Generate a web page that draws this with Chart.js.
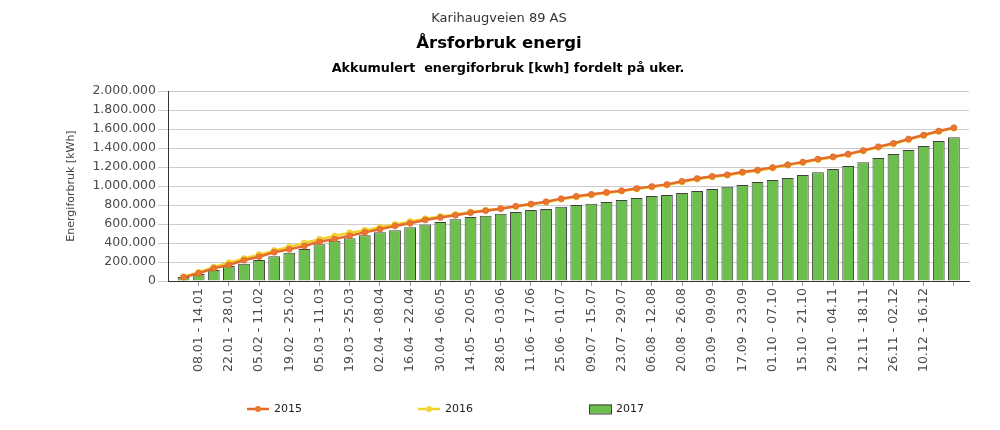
<!DOCTYPE html>
<html lang="no">
<head>
<meta charset="utf-8">
<title>Årsforbruk energi</title>
<script src="https://cdn.jsdelivr.net/npm/chart.js@4"></script>
<style>
    html, body { margin: 0; padding: 0; background: #fff; }
    #wrap { position: relative; width: 1000px; height: 430px; }
</style>
</head>
<body>
<div id="wrap"><canvas id="energyChart"></canvas></div>
<script>
// Uker 2017
const weeks = [
    '01.01 - 07.01', '08.01 - 14.01', '15.01 - 21.01', '22.01 - 28.01', '29.01 - 04.02',
    '05.02 - 11.02', '12.02 - 18.02', '19.02 - 25.02', '26.02 - 04.03', '05.03 - 11.03',
    '12.03 - 18.03', '19.03 - 25.03', '26.03 - 01.04', '02.04 - 08.04', '09.04 - 15.04',
    '16.04 - 22.04', '23.04 - 29.04', '30.04 - 06.05', '07.05 - 13.05', '14.05 - 20.05',
    '21.05 - 27.05', '28.05 - 03.06', '04.06 - 10.06', '11.06 - 17.06', '18.06 - 24.06',
    '25.06 - 01.07', '02.07 - 08.07', '09.07 - 15.07', '16.07 - 22.07', '23.07 - 29.07',
    '30.07 - 05.08', '06.08 - 12.08', '13.08 - 19.08', '20.08 - 26.08', '27.08 - 02.09',
    '03.09 - 09.09', '10.09 - 16.09', '17.09 - 23.09', '24.09 - 30.09', '01.10 - 07.10',
    '08.10 - 14.10', '15.10 - 21.10', '22.10 - 28.10', '29.10 - 04.11', '05.11 - 11.11',
    '12.11 - 18.11', '19.11 - 25.11', '26.11 - 02.12', '03.12 - 09.12', '10.12 - 16.12',
    '17.12 - 23.12', '24.12 - 30.12'
];

// Akkumulert forbruk [kWh]
const forbruk2015 = [
    39000, 81000, 133000, 168000, 218000, 256000, 302000, 333000, 368000, 414000,
    442000, 477000, 512000, 544000, 579000, 607000, 642000, 668000, 691000, 719000,
    740000, 761000, 786000, 811000, 835000, 867000, 891000, 912000, 933000, 951000,
    975000, 996000, 1017000, 1049000, 1080000, 1102000, 1119000, 1147000, 1168000, 1196000,
    1225000, 1253000, 1284000, 1309000, 1337000, 1375000, 1414000, 1449000, 1495000, 1537000,
    1579000, 1614000
];
const forbruk2016 = [
    46000, 91000, 148000, 193000, 236000, 278000, 320000, 358000, 400000, 439000,
    475000, 507000, 533000, 565000, 596000, 627000, 656000, 680000, 700000, 726000,
    745000, 763000, 785000, 806000, 829000, 860000, 884000, 906000, 927000, 945000,
    968000, 989000, 1010000, 1042000, 1072000, 1095000, 1112000, 1140000, 1161000, 1189000,
    1218000, 1246000, 1277000, 1302000, 1330000, 1368000, 1407000, 1442000, 1488000, 1530000,
    1573000, 1609000
];
const forbruk2017 = [
    42000, 74000, 116000, 158000, 182000, 221000, 260000, 298000, 337000, 386000,
    425000, 449000, 481000, 512000, 533000, 565000, 596000, 622000, 649000, 674000,
    688000, 709000, 726000, 747000, 758000, 781000, 800000, 814000, 832000, 853000,
    874000, 895000, 905000, 926000, 947000, 968000, 993000, 1010000, 1042000, 1063000,
    1084000, 1116000, 1146000, 1179000, 1210000, 1249000, 1295000, 1337000, 1379000, 1421000,
    1474000, 1512000
];

const yTicks = [0, 200000, 400000, 600000, 800000, 1000000, 1200000, 1400000, 1600000, 1800000, 2000000];
const lastLabelled = 49;

const FONT = "'DejaVu Sans', Verdana, sans-serif";
Chart.defaults.font.family = FONT;

const toPoints = arr => arr.map((v, i) => ({ x: i, y: v }));
const formatNo = v => String(v).replace(/\B(?=(\d{3})+(?!\d))/g, '.');
const xTickIdx = weeks.map((w, i) => i).filter(i => i % 2 === 1);

// Overskrifter
const headerPlugin = {
    id: 'header',
    afterDraw(chart) {
        const c = chart.ctx;
        c.save();
        c.textAlign = 'center';
        c.textBaseline = 'middle';
        c.fillStyle = '#333';
        c.font = '13px ' + FONT;
        c.fillText('Karihaugveien 89 AS', 499, 19);
        c.fillStyle = '#000';
        c.font = 'bold 16.5px ' + FONT;
        c.fillText('Årsforbruk energi', 499, 44);
        c.font = 'bold 12.75px ' + FONT;
        c.fillText('Akkumulert  energiforbruk [kwh] fordelt på uker.', 508, 69);
        c.restore();
    }
};

// Tegnforklaring
const legendPlugin = {
    id: 'customLegend',
    afterDraw(chart) {
        const c = chart.ctx;
        const xs = [247, 418, 589];
        const y = 409;
        c.save();
        chart.data.datasets.forEach((ds, i) => {
            const x = xs[i];
            if (ds.type === 'line') {
                c.strokeStyle = ds.borderColor;
                c.lineWidth = 2.5;
                c.beginPath();
                c.moveTo(x, y);
                c.lineTo(x + 22, y);
                c.stroke();
                c.fillStyle = ds.pointBackgroundColor;
                c.beginPath();
                c.arc(x + 11, y, 3, 0, Math.PI * 2);
                c.fill();
            } else {
                c.fillStyle = ds.backgroundColor;
                c.fillRect(x, y - 4.5, 23, 9);
                c.strokeStyle = ds.borderColor;
                c.lineWidth = 1;
                c.strokeRect(x + 0.5, y - 4, 22, 9);
            }
            c.fillStyle = '#222';
            c.font = '11px ' + FONT;
            c.textAlign = 'left';
            c.textBaseline = 'middle';
            c.fillText(ds.label, x + 27, y);
        });
        c.restore();
    }
};

const ctx = document.getElementById('energyChart').getContext('2d');

new Chart(ctx, {
    type: 'bar',
    data: {
        datasets: [
            {
                type: 'line',
                label: '2015',
                data: toPoints(forbruk2015),
                borderColor: '#e56b2a',
                backgroundColor: '#e56b2a',
                borderWidth: 2.5,
                pointRadius: 3,
                pointBackgroundColor: '#ec7532',
                pointBorderColor: '#d0601f',
                pointBorderWidth: 0.5,
                tension: 0,
                order: 0
            },
            {
                type: 'line',
                label: '2016',
                data: toPoints(forbruk2016),
                borderColor: '#f2d12b',
                backgroundColor: '#f2d12b',
                borderWidth: 2.5,
                pointRadius: 3,
                pointBackgroundColor: '#f6d634',
                pointBorderColor: '#e2bb1c',
                pointBorderWidth: 0.5,
                tension: 0,
                order: 1
            },
            {
                type: 'bar',
                label: '2017',
                data: toPoints(forbruk2017),
                backgroundColor: '#6cbf4c',
                borderColor: '#3f3f3f',
                borderWidth: 1,
                barPercentage: 0.78,
                categoryPercentage: 1,
                order: 2
            }
        ]
    },
    options: {
        responsive: true,
        maintainAspectRatio: false,
        animation: false,
        layout: {
            padding: { top: 91, right: 31, bottom: 0, left: 0 }
        },
        plugins: {
            legend: { display: false },
            tooltip: { enabled: false }
        },
        scales: {
            x: {
                type: 'linear',
                min: -1.03,
                max: 52,
                offset: false,
                afterBuildTicks: axis => { axis.ticks = xTickIdx.map(v => ({ value: v })); },
                afterFit: axis => { axis.height = 149; },
                ticks: {
                    autoSkip: false,
                    minRotation: 90,
                    maxRotation: 90,
                    padding: 2,
                    color: '#4a4a4a',
                    font: { size: 12.5 },
                    callback: v => (v <= lastLabelled ? weeks[v] : '')
                },
                grid: {
                    drawOnChartArea: false,
                    drawTicks: true,
                    tickLength: 5,
                    color: '#999',
                    offset: false
                },
                border: { display: true, color: '#333', width: 1 }
            },
            y: {
                min: yTicks[0],
                max: yTicks[yTicks.length - 1],
                afterBuildTicks: axis => { axis.ticks = yTicks.map(v => ({ value: v })); },
                afterFit: axis => { axis.width = 168; },
                ticks: {
                    color: '#4a4a4a',
                    padding: 2,
                    font: { size: 12.5 },
                    callback: v => formatNo(v)
                },
                grid: {
                    color: '#cccccc',
                    tickLength: 10,
                    drawTicks: true
                },
                border: { display: true, color: '#333', width: 1 },
                title: {
                    display: true,
                    text: 'Energiforbruk [kWh]',
                    color: '#444',
                    font: { size: 11 },
                    padding: { top: 65, bottom: 0 }
                }
            }
        }
    },
    plugins: [headerPlugin, legendPlugin]
});
</script>
</body>
</html>
